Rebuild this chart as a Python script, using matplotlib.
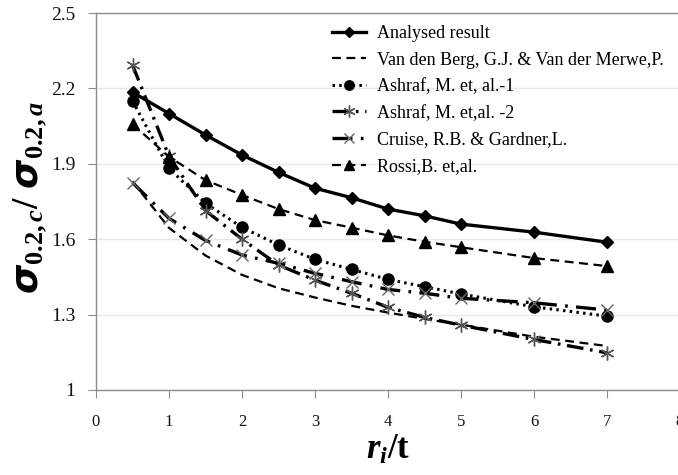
import matplotlib
matplotlib.use("Agg")
import matplotlib.pyplot as plt

plt.rcParams['font.family'] = 'Liberation Serif'
plt.rcParams['mathtext.fontset'] = 'custom'
plt.rcParams['mathtext.rm'] = 'Liberation Serif:bold'
plt.rcParams['mathtext.it'] = 'Liberation Serif:italic:bold'
plt.rcParams['mathtext.bf'] = 'Liberation Serif:italic:bold'

# data
r_t = [0.5, 1, 1.5, 2, 2.5, 3, 3.5, 4, 4.5, 5, 6, 7]
analysed = [2.185, 2.10, 2.015, 1.935, 1.866, 1.803, 1.765, 1.72, 1.693, 1.66, 1.628, 1.588]
van_den_berg = [1.83, 1.645, 1.535, 1.458, 1.405, 1.368, 1.335, 1.308, 1.283, 1.26, 1.212, 1.175]
ashraf_1 = [2.15, 1.882, 1.743, 1.647, 1.577, 1.52, 1.48, 1.44, 1.411, 1.382, 1.331, 1.294]
ashraf_2 = [2.293, 1.93, 1.714, 1.600, 1.497, 1.437, 1.385, 1.329, 1.289, 1.258, 1.201, 1.148]
cruise = [1.825, 1.683, 1.595, 1.537, 1.504, 1.464, 1.431, 1.40, 1.385, 1.365, 1.347, 1.318]
rossi = [2.058, 1.928, 1.835, 1.776, 1.72, 1.676, 1.646, 1.615, 1.59, 1.568, 1.525, 1.493]

labels = ["Analysed result",
          "Van den Berg, G.J. & Van der Merwe,P.",
          "Ashraf, M. et, al.-1",
          "Ashraf, M. et,al. -2",
          "Cruise, R.B. & Gardner,L.",
          "Rossi,B. et,al."]

x_ticks = [0, 1, 2, 3, 4, 5, 6, 7, 8]
y_ticks = [1, 1.3, 1.6, 1.9, 2.2, 2.5]

fig = plt.figure(figsize=(6.78, 4.75), dpi=100)
ax = fig.add_axes([96 / 678, 85 / 475, 584 / 678, 377 / 475])

gray = '#8c8c8c'

ax.plot(r_t, analysed, color='black', lw=2.4, marker='D', ms=6, label=labels[0], zorder=5)
ax.plot(r_t, van_den_berg, color='black', lw=1.6, dashes=(4, 2.5), label=labels[1], zorder=4)
ax.plot(r_t, ashraf_1, color='black', lw=2.2, linestyle=(0, (0.8, 1.4)), marker='o', ms=8,
        label=labels[2], zorder=4)
ax.plot(r_t, ashraf_2, color='black', lw=2.4, dashes=(5, 2, 0.8, 2), marker=(6, 2, 0), ms=10,
        mec='#555555', mew=1, label=labels[3], zorder=4)
ax.plot(r_t, cruise, color='black', lw=2.4, dashes=(6, 2.5, 0.8, 2.5), marker='x', ms=9,
        mec='#666666', mew=1, label=labels[4], zorder=4)
ax.plot(r_t, rossi, color='black', lw=1.6, dashes=(4, 2.5), marker='^', ms=8,
        label=labels[5], zorder=4)

ax.set_xlim(0, 8)
ax.set_ylim(1, 2.5)
ax.set_xticks(x_ticks)
ax.set_yticks(y_ticks)
ax.set_xticklabels([f'{v:g}' for v in x_ticks], fontsize=12)
ax.set_yticklabels([f'{v:g}' for v in y_ticks], fontsize=14)
ax.tick_params(axis='both', direction='out', length=6, color=gray, labelcolor='#111111')
ax.tick_params(axis='x', pad=11)
ax.tick_params(axis='y', pad=9)

ax.grid(axis='y', color='#e8e8e8', lw=1)
ax.set_axisbelow(True)
for side in ['left', 'bottom', 'top']:
    ax.spines[side].set_color(gray)
    ax.spines[side].set_linewidth(1)
ax.spines['right'].set_visible(False)

ax.legend(loc='upper left', bbox_to_anchor=(332 / 678, 1 - 25 / 475),
          bbox_transform=fig.transFigure, frameon=False, fontsize=13,
          handlelength=1.9, handletextpad=0.6, labelspacing=0.53,
          borderpad=0, borderaxespad=0, markerscale=0.85)

fig.text(30 / 678, 1 - 197 / 475, r'$\boldsymbol{\sigma}_{0.2,c}/\ \boldsymbol{\sigma}_{0.2,a}$',
         rotation=90, ha='center', va='center', fontsize=27)
fig.text(388 / 678, 1 - 450 / 475, r'$r_i/\mathrm{t}$', ha='center', va='center', fontsize=25)

fig.savefig('out.png', dpi=100)
